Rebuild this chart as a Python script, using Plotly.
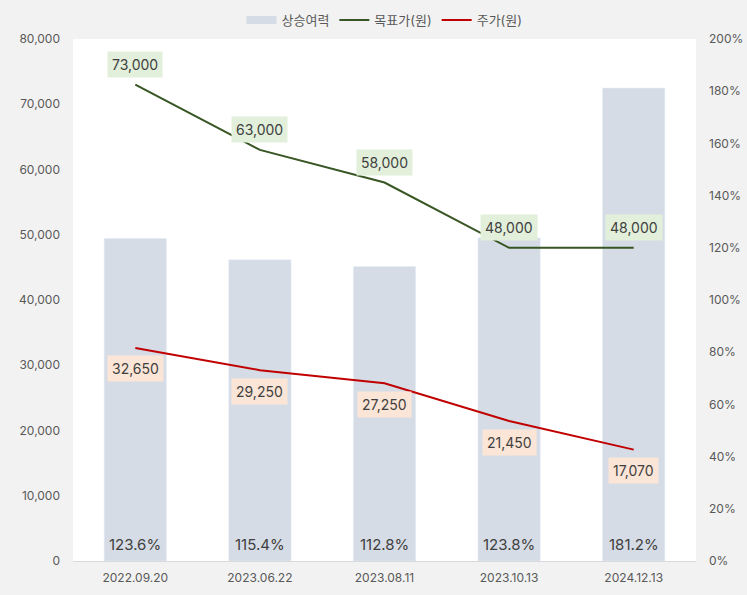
import plotly.graph_objects as go

dates = ["2022.09.20", "2023.06.22", "2023.08.11", "2023.10.13", "2024.12.13"]
upside = [123.6, 115.4, 112.8, 123.8, 181.2]
target = [73000, 63000, 58000, 48000, 48000]
price = [32650, 29250, 27250, 21450, 17070]

FONT = "Inter, Noto Sans CJK KR, sans-serif"
TXT = "#404040"
BAR = "#d6dce5"

fig = go.Figure()
# Bars on primary axis (percent, shown on right); lines on overlaying axis (price, left)
fig.add_trace(go.Bar(
    x=dates, y=upside, name="상승여력", yaxis="y",
    marker=dict(color=BAR), width=0.5, showlegend=False,
))
# legend swatch for the bars (wide flat rectangle like the reference)
fig.add_trace(go.Scatter(
    x=[dates[0]], y=[None], name="상승여력", mode="lines", yaxis="y",
    line=dict(color=BAR, width=8),
))
fig.add_trace(go.Scatter(
    x=dates, y=target, name="목표가(원)", mode="lines", yaxis="y2",
    line=dict(color="#375623", width=2),
))
fig.add_trace(go.Scatter(
    x=dates, y=price, name="주가(원)", mode="lines", yaxis="y2",
    line=dict(color="#c00000", width=2),
))

for d, v in zip(dates, upside):
    fig.add_annotation(x=d, y=0, xref="x", yref="y", text=f"{v:.1f}%", showarrow=False,
                       yanchor="bottom", yshift=5,
                       font=dict(size=15, color=TXT, family=FONT))
for d, v in zip(dates, target):
    fig.add_annotation(x=d, y=v, xref="x", yref="y2", text=f"{v:,}", showarrow=False,
                       yshift=20, bgcolor="#e2efda", borderpad=4,
                       font=dict(size=14, color=TXT, family=FONT))
for d, v in zip(dates, price):
    fig.add_annotation(x=d, y=v, xref="x", yref="y2", text=f"{v:,}", showarrow=False,
                       yshift=-21, bgcolor="#fbe5d6", borderpad=4,
                       font=dict(size=14, color=TXT, family=FONT))

fig.update_layout(
    width=747, height=595,
    margin=dict(l=73, r=51, t=39, b=34, autoexpand=False),
    paper_bgcolor="#f2f2f2", plot_bgcolor="#ffffff",
    font=dict(family=FONT, size=12, color="#595959"),
    showlegend=True,
    legend=dict(orientation="h", x=0.5, xanchor="center", y=575 / 595, yanchor="middle",
                yref="container",
                font=dict(size=13, color="#595959"), bgcolor="rgba(0,0,0,0)",
                traceorder="normal", itemwidth=30),
    bargap=0.5,
    xaxis=dict(type="category", showgrid=False, showline=True, linecolor="#d9d9d9",
               ticks="", ticklabelstandoff=6, tickfont=dict(size=12, color="#595959")),
    yaxis=dict(range=[0, 200], dtick=20, ticksuffix="%", side="right",
               showgrid=False, zeroline=False, ticks="", ticklabelstandoff=12,
               tickfont=dict(size=12, color="#595959")),
    yaxis2=dict(range=[0, 80000], dtick=10000, tickformat=",", overlaying="y", side="left",
                showgrid=False, zeroline=False, ticks="", ticklabelstandoff=12,
                tickfont=dict(size=12, color="#595959")),
)

fig.write_html("out.html")
